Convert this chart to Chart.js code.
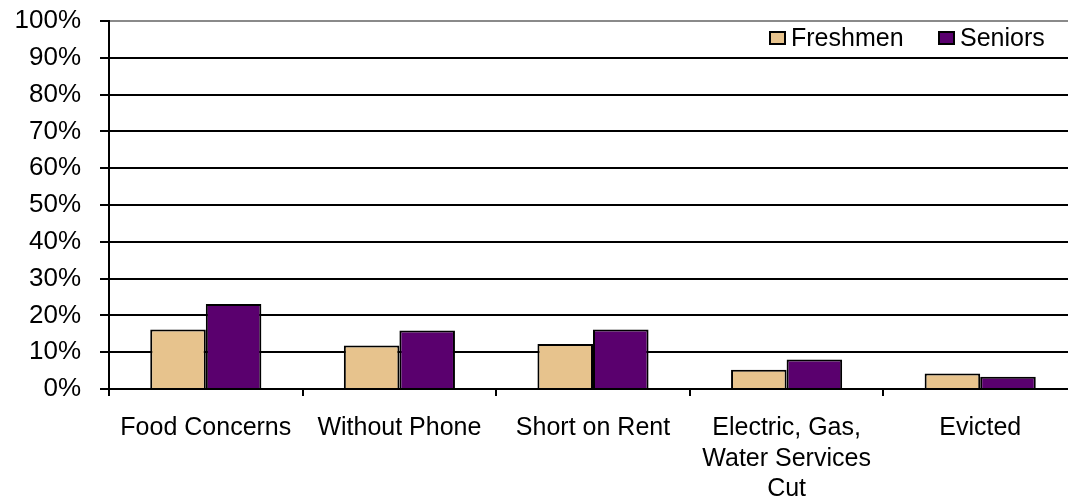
<!DOCTYPE html>
<html>
<head>
<meta charset="utf-8">
<script src="https://cdn.jsdelivr.net/npm/chart.js@4/dist/chart.umd.min.js"></script>
<style>
  html, body { margin: 0; padding: 0; background: #fff; overflow: hidden; }
  #wrap { width: 1068px; height: 500px; overflow: hidden; }
  canvas { display: block; }
</style>
</head>
<body>
<div id="wrap"><canvas id="c" width="1090" height="500"></canvas></div>
<script>
// Share of students reporting each hardship
const categories = [
  'Food Concerns',
  'Without Phone',
  'Short on Rent',
  ['Electric, Gas,', 'Water Services', 'Cut'],
  'Evicted'
];
const freshmen = [16.2, 11.8, 12.2, 5.2, 4.2];
const seniors  = [23.1, 15.9, 16.2, 8.0, 3.3];
const yTicks = [0, 10, 20, 30, 40, 50, 60, 70, 80, 90, 100];

const FONT = "'Liberation Sans', Arial, sans-serif";

// Legend drawn inside the plot, top right: small framed swatch + label
const insideLegend = {
  id: 'insideLegend',
  afterDraw(chart) {
    const ctx = chart.ctx;
    const items = [{ x: 769 }, { x: 938 }];
    ctx.save();
    ctx.font = '25px ' + FONT;
    ctx.textBaseline = 'middle';
    ctx.textAlign = 'left';
    chart.data.datasets.forEach((ds, i) => {
      const bx = items[i].x, by = 31;
      ctx.fillStyle = ds.backgroundColor;
      ctx.fillRect(bx, by, 17, 14);
      ctx.lineWidth = 2;
      ctx.strokeStyle = '#000';
      ctx.strokeRect(bx + 1, by + 1, 15, 12);
      ctx.fillStyle = '#000';
      ctx.fillText(ds.label, bx + 22, 39);
    });
    ctx.restore();
  }
};

new Chart(document.getElementById('c'), {
  type: 'bar',
  data: {
    labels: categories,
    datasets: [
      { label: 'Freshmen', data: freshmen, backgroundColor: '#E7C38D',
        borderColor: '#000', borderWidth: 2 },
      { label: 'Seniors', data: seniors, backgroundColor: '#5A006E',
        borderColor: '#000', borderWidth: 2 }
    ]
  },
  options: {
    responsive: false,
    animation: false,
    devicePixelRatio: 1,
    layout: { padding: { top: 21, right: 13, left: 0, bottom: 0 } },
    datasets: { bar: { categoryPercentage: 0.574, barPercentage: 1.0 } },
    plugins: {
      legend: { display: false },
      tooltip: { enabled: false }
    },
    scales: {
      x: {
        grid: {
          drawOnChartArea: false,
          drawTicks: true,
          tickLength: 7,
          tickColor: '#000',
          lineWidth: 2,
          offset: true
        },
        border: { color: '#000', width: 2 },
        ticks: {
          color: '#000',
          font: { family: FONT, size: 25, lineHeight: 1.22 },
          maxRotation: 0,
          autoSkip: false,
          padding: 17
        },
        afterFit(scale) { scale.height = 111; }
      },
      y: {
        min: 0,
        max: 100,
        afterBuildTicks(scale) { scale.ticks = yTicks.map(v => ({ value: v })); },
        grid: {
          color: ctx => (ctx.tick && ctx.tick.value === 100) ? '#8a8a8a' : '#000',
          lineWidth: 2,
          tickLength: 9,
          tickColor: '#000'
        },
        border: { color: '#000', width: 2 },
        ticks: {
          color: '#000',
          font: { family: FONT, size: 26 },
          padding: 19,
          callback: v => v + '%'
        },
        afterFit(scale) {
          scale.width = 109;
          scale.paddingTop = 0;
          scale.paddingBottom = 0;
        }
      }
    }
  },
  plugins: [insideLegend]
});
</script>
</body>
</html>
